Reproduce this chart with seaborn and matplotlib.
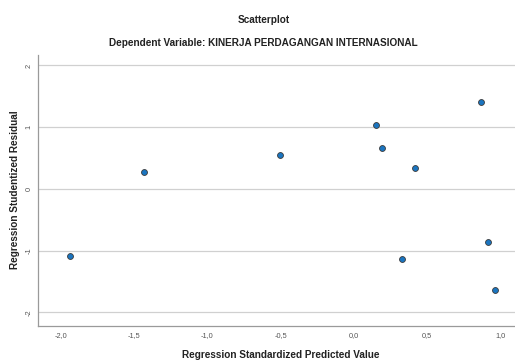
import matplotlib
matplotlib.use("Agg")
import matplotlib.pyplot as plt
import seaborn as sns
import pandas as pd
from matplotlib.ticker import FuncFormatter

predicted = [-1.94, -1.435, -0.503, 0.152, 0.195, 0.42, 0.327, 0.867, 0.917, 0.965]
residual = [-1.09, 0.275, 0.55, 1.03, 0.67, 0.335, -1.13, 1.41, -0.855, -1.64]
x_ticks = [-2.0, -1.5, -1.0, -0.5, 0.0, 0.5, 1.0]
y_ticks = [-2, -1, 0, 1, 2]

df = pd.DataFrame({"pred": predicted, "resid": residual})

sns.set_theme(style="white")
plt.rcParams['font.family'] = ['Liberation Sans', 'DejaVu Sans']

fig = plt.figure(figsize=(5.15, 3.61), dpi=100)
ax = fig.add_axes([38/515, 1 - 326/361, 1 - 38/515, (326 - 55)/361])

sns.scatterplot(data=df, x="pred", y="resid", ax=ax, s=18, color="#1b75c0",
                edgecolor="#3a3a3a", linewidth=0.6, zorder=3)

ax.set_xlim(-2.156, 1.10)
ax.set_ylim(-2.22, 2.17)
ax.set_xticks(x_ticks)
ax.set_yticks(y_ticks)
ax.xaxis.set_major_formatter(FuncFormatter(lambda v, p: f"{v:.1f}".replace(".", ",")))
ax.yaxis.set_major_formatter(FuncFormatter(lambda v, p: f"{int(round(v))}"))
for lab in ax.get_yticklabels():
    lab.set_rotation(90)
    lab.set_va("center")
ax.tick_params(axis="both", labelsize=5.3, colors="#555555", length=0, pad=4)
ax.grid(axis="y", color="#d0d0d0", linewidth=0.9)
ax.grid(axis="x", visible=False)
for side in ["top", "right"]:
    ax.spines[side].set_visible(False)
for side in ["left", "bottom"]:
    ax.spines[side].set_color("#9a9a9a")
    ax.spines[side].set_linewidth(0.9)

ax.set_xlabel("")
ax.set_ylabel("")
fig.text(281/515, 1 - 355/361, "Regression Standardized Predicted Value",
         ha="center", va="center", fontsize=7.2, fontweight="bold", color="#222222")
fig.text(15/515, 1 - 190/361, "Regression Studentized Residual",
         ha="center", va="center", rotation=90, fontsize=7.2, fontweight="bold", color="#222222")
fig.text(264/515, 1 - 20/361, "Scatterplot", ha="center", va="center",
         fontsize=7.2, fontweight="bold", color="#222222")
fig.text(263/515, 1 - 43/361, "Dependent Variable: KINERJA PERDAGANGAN INTERNASIONAL",
         ha="center", va="center", fontsize=7.2, fontweight="bold", color="#222222")

fig.savefig("out.png", dpi=100, facecolor="white")
